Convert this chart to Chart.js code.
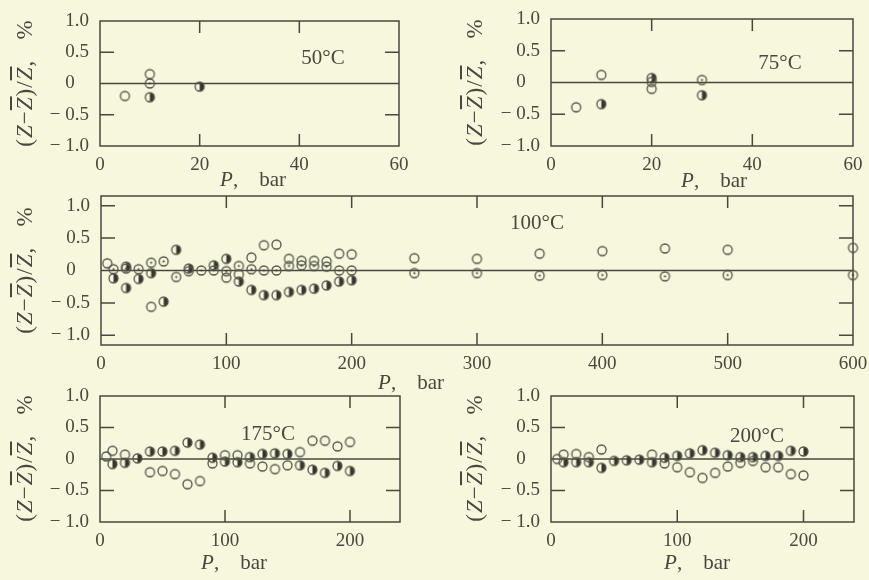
<!DOCTYPE html>
<html>
<head>
<meta charset="utf-8">
<script src="https://cdn.jsdelivr.net/npm/chart.js@4.4.1/dist/chart.umd.min.js"></script>
<style>
  html, body { margin: 0; padding: 0; background: #f6f7dc; }
  #page { position: relative; width: 869px; height: 580px; overflow: hidden;
          font-family: "Liberation Serif", "DejaVu Serif", serif; color: #48483f; }
  #page canvas { position: absolute; }
  .lbl { position: absolute; font-size: 21px; white-space: nowrap; transform: translate(-50%, -50%); }
  .yt { position: absolute; font-size: 23px; letter-spacing: 1px; white-space: nowrap; transform: translate(-50%, -50%) rotate(-90deg); }
  .ov { text-decoration: overline; }
</style>
</head>
<body>
<div id="page"></div>
<script>
// 50 °C
const t50OpenP = [5, 10];
const t50OpenV = [-0.2, 0.15];
const t50DotP = [10];
const t50DotV = [0.0];
const t50HalfP = [10, 20];
const t50HalfV = [-0.22, -0.05];

// 75 °C
const t75OpenP = [5, 10, 20];
const t75OpenV = [-0.39, 0.12, -0.1];
const t75DotP = [20, 30];
const t75DotV = [0.01, 0.04];
const t75HalfP = [10, 20, 30];
const t75HalfV = [-0.34, 0.07, -0.2];

// 100 °C
const t100OpenP = [5, 40, 100, 110, 120, 130, 140, 150, 160, 170, 180, 190, 200, 250, 300, 350, 400, 450, 500, 600];
const t100OpenV = [0.11, -0.56, -0.11, -0.06, 0.2, 0.39, 0.4, 0.18, 0.15, 0.15, 0.14, 0.26, 0.25, 0.19, 0.18, 0.26, 0.3, 0.34, 0.32, 0.35];
const t100DotP = [10, 20, 30, 40, 50, 60, 70, 80, 90, 100, 110, 120, 130, 140, 150, 160, 170, 180, 190, 200, 250, 300, 350, 400, 450, 500, 600];
const t100DotV = [0.02, 0.03, 0.02, 0.12, 0.14, -0.1, -0.01, 0.0, 0.0, -0.01, 0.07, 0.02, 0.0, 0.0, 0.07, 0.08, 0.07, 0.06, 0.0, 0.0, -0.04, -0.04, -0.08, -0.07, -0.09, -0.07, -0.07];
const t100HalfP = [10, 20, 20, 30, 40, 50, 60, 70, 90, 100, 110, 120, 130, 140, 150, 160, 170, 180, 190, 200];
const t100HalfV = [-0.12, 0.06, -0.27, -0.13, -0.04, -0.48, 0.32, 0.03, 0.08, 0.18, -0.17, -0.3, -0.38, -0.38, -0.33, -0.3, -0.28, -0.23, -0.17, -0.15];

// 175 °C
const t175OpenP = [5, 10, 20, 40, 50, 60, 70, 80, 90, 100, 110, 120, 130, 140, 150, 160, 170, 180, 190, 200];
const t175OpenV = [0.04, 0.13, 0.07, -0.21, -0.19, -0.24, -0.4, -0.35, -0.07, 0.06, 0.06, -0.07, -0.12, -0.16, -0.1, 0.11, 0.29, 0.29, 0.2, 0.27];
const t175HalfP = [10, 20, 30, 40, 50, 60, 70, 80, 90, 100, 110, 120, 130, 140, 150, 160, 170, 180, 190, 200];
const t175HalfV = [-0.08, -0.06, 0.01, 0.12, 0.12, 0.13, 0.26, 0.23, 0.02, -0.04, -0.05, 0.03, 0.08, 0.09, 0.08, -0.1, -0.17, -0.22, -0.11, -0.19];

// 200 °C
const t200OpenP = [5, 10, 20, 30, 40, 80, 90, 100, 110, 120, 130, 140, 150, 160, 170, 180, 190, 200];
const t200OpenV = [0.0, 0.07, 0.08, 0.03, 0.15, 0.07, -0.07, -0.13, -0.21, -0.3, -0.22, -0.12, -0.06, -0.03, -0.13, -0.13, -0.24, -0.26];
const t200HalfP = [10, 20, 30, 40, 50, 60, 70, 80, 90, 100, 110, 120, 130, 140, 150, 160, 170, 180, 190, 200];
const t200HalfV = [-0.05, -0.05, -0.05, -0.14, -0.03, -0.02, -0.01, -0.05, 0.02, 0.05, 0.09, 0.14, 0.1, 0.06, 0.03, 0.03, 0.05, 0.05, 0.13, 0.12];

// tick labels
const xTicksSmall = [0, 20, 40, 60];
const xTicksWide = [0, 100, 200, 300, 400, 500, 600];
const xTicksMid = [0, 100, 200];
const yTicks = [-1, -0.5, 0, 0.5, 1];

const ink = "#48483f";
const padL = 72, padT = 24, padR = 26, axisH = 40;

function marker(kind) {
  const c = document.createElement("canvas");
  c.width = 13; c.height = 13;
  const g = c.getContext("2d");
  g.strokeStyle = "#55554c";
  g.lineWidth = 1.3;
  if (kind === "half") {
    g.fillStyle = "#36362f";
    g.beginPath();
    g.arc(6.5, 6.5, 4.5, -Math.PI / 2, Math.PI / 2);
    g.closePath();
    g.fill();
  }
  g.beginPath();
  g.arc(6.5, 6.5, 4.5, 0, Math.PI * 2);
  g.stroke();
  if (kind === "dot") {
    g.fillStyle = "#44443c";
    g.beginPath();
    g.arc(6.5, 6.5, 1.1, 0, Math.PI * 2);
    g.fill();
  }
  return c;
}
const mOpen = marker("open"), mDot = marker("dot"), mHalf = marker("half");

function series(ps, vs, m) {
  return {
    data: ps.map((p, i) => ({ x: p, y: vs[i] })),
    pointStyle: m, pointRadius: 5, pointHoverRadius: 5,
    showLine: false, clip: false
  };
}

const framePlugin = {
  id: "frame",
  beforeDatasetsDraw(chart, args, o) {
    const { ctx, chartArea: a, scales: { x, y } } = chart;
    ctx.save();
    ctx.strokeStyle = ink;
    ctx.lineWidth = 1.5;
    ctx.strokeRect(a.left, a.top, a.right - a.left, a.bottom - a.top);
    ctx.beginPath();
    const y0 = y.getPixelForValue(0);
    ctx.moveTo(a.left, y0); ctx.lineTo(a.right, y0);
    o.inX.forEach(v => {
      const px = x.getPixelForValue(v);
      ctx.moveTo(px, a.top); ctx.lineTo(px, a.top + 12);
      ctx.moveTo(px, a.bottom); ctx.lineTo(px, a.bottom - 12);
    });
    o.inY.forEach(v => {
      const py = y.getPixelForValue(v);
      ctx.moveTo(a.left, py); ctx.lineTo(a.left + 14, py);
      ctx.moveTo(a.right, py); ctx.lineTo(a.right - 14, py);
    });
    ctx.stroke();
    ctx.restore();
  }
};

function yLabel(v) {
  if (v === 0) return "0\u2008\u2007";
  return (v < 0 ? "\u2212 " : "") + Math.abs(v).toFixed(1);
}

const page = document.getElementById("page");

function panel(box, xMax, xTicks, yLim, inX, inY, datasets) {
  const cv = document.createElement("canvas");
  const w = box.R - box.L + padL + padR, h = box.B - box.T + padT + axisH;
  cv.width = w; cv.height = h;
  cv.style.left = (box.L - padL) + "px";
  cv.style.top = (box.T - padT) + "px";
  page.appendChild(cv);
  new Chart(cv, {
    type: "scatter",
    data: { datasets },
    plugins: [framePlugin],
    options: {
      responsive: false,
      animation: false,
      events: [],
      layout: { padding: { left: 0, top: padT, right: padR, bottom: 0 } },
      plugins: { legend: { display: false }, tooltip: { enabled: false }, frame: { inX, inY } },
      scales: {
        x: {
          type: "linear", min: 0, max: xMax,
          afterBuildTicks: s => { s.ticks = xTicks.map(v => ({ value: v })); },
          afterFit: s => { s.height = axisH; },
          grid: { display: false, drawTicks: false },
          border: { display: false },
          ticks: { padding: 8, color: ink, font: { size: 19 }, maxRotation: 0, autoSkip: false }
        },
        y: {
          type: "linear", min: -yLim, max: yLim,
          afterBuildTicks: s => { s.ticks = yTicks.map(v => ({ value: v })); },
          afterFit: s => { s.width = padL; },
          grid: { display: false, drawTicks: false },
          border: { display: false },
          ticks: { padding: 11, color: ink, font: { size: 19 }, callback: yLabel, autoSkip: false }
        }
      }
    }
  });
}

Chart.defaults.font.family = '"Liberation Serif", "DejaVu Serif", serif';

panel({ L: 100, T: 21, R: 399, B: 146 }, 60, xTicksSmall, 1, [20, 40], [-0.5, 0.5], [
  series(t50OpenP, t50OpenV, mOpen),
  series(t50DotP, t50DotV, mDot),
  series(t50HalfP, t50HalfV, mHalf)
]);
panel({ L: 551, T: 19, R: 853, B: 146 }, 60, xTicksSmall, 1, [20, 40], [-0.5, 0.5], [
  series(t75OpenP, t75OpenV, mOpen),
  series(t75DotP, t75DotV, mDot),
  series(t75HalfP, t75HalfV, mHalf)
]);
panel({ L: 101, T: 196, R: 853, B: 345 }, 600, xTicksWide, 1.15, [100, 200, 300, 400, 500], [-1, -0.5, 0.5, 1], [
  series(t100OpenP, t100OpenV, mOpen),
  series(t100DotP, t100DotV, mDot),
  series(t100HalfP, t100HalfV, mHalf)
]);
panel({ L: 100, T: 396, R: 400, B: 522 }, 240, xTicksMid, 1, [100, 200], [-0.5, 0.5], [
  series(t175OpenP, t175OpenV, mOpen),
  series(t175HalfP, t175HalfV, mHalf)
]);
panel({ L: 551, T: 396, R: 854, B: 522 }, 240, xTicksMid, 1, [100, 200], [-0.5, 0.5], [
  series(t200OpenP, t200OpenV, mOpen),
  series(t200HalfP, t200HalfV, mHalf)
]);

// titles and panel labels
function addText(cls, html, x, y) {
  const d = document.createElement("div");
  d.className = cls;
  d.innerHTML = html;
  d.style.left = x + "px";
  d.style.top = y + "px";
  page.appendChild(d);
}
const yTitle = '(<i>Z</i>\u2212<i class="ov">Z</i>)/<i class="ov">Z</i>,&nbsp;&nbsp;&nbsp;%';
const xTitle = '<i>P</i>,&nbsp;&nbsp;&nbsp;&nbsp;bar';
[[25, 83], [475, 82], [25, 270], [25, 458], [475, 458]].forEach(([x, y]) => addText("yt", yTitle, x, y));
[[253, 179], [714, 180], [411, 382], [234, 562], [697, 562]].forEach(([x, y]) => addText("lbl", xTitle, x, y));
addText("lbl", "50°C", 323, 57);
addText("lbl", "75°C", 780, 62);
addText("lbl", "100°C", 537, 222);
addText("lbl", "175°C", 268, 433);
addText("lbl", "200°C", 757, 435);
</script>
</body>
</html>
